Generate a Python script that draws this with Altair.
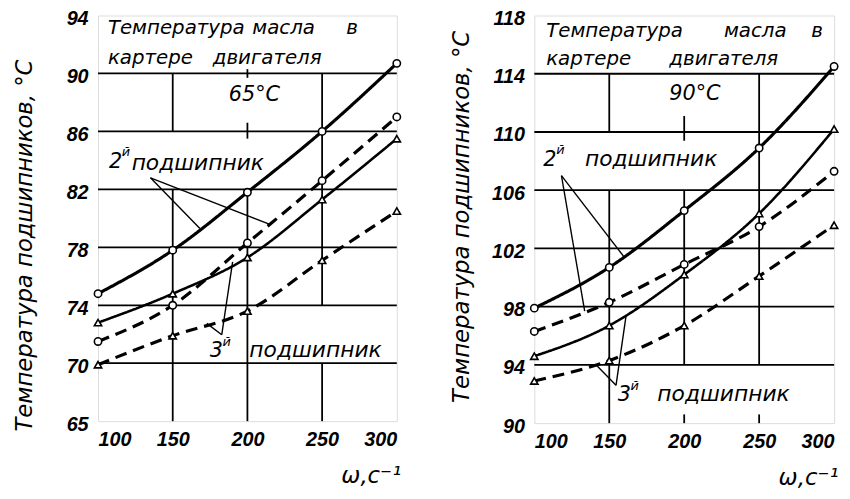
import altair as alt
import pandas as pd

# ---------------- data ----------------
omega = [100, 150, 200, 250, 300]

# engine oil 65 °C
t65_b2_solid = [74.8, 77.8, 81.8, 86.0, 90.7]
t65_b2_dashed = [71.5, 74.0, 78.3, 82.6, 87.0]
t65_b3_solid = [72.8, 74.8, 77.3, 81.3, 85.5]
t65_b3_dashed = [69.9, 71.9, 73.6, 77.1, 80.5]

# engine oil 90 °C
t90_b2_solid = [97.9, 100.7, 104.6, 108.9, 114.5]
t90_b2_dashed = [96.3, 98.3, 100.9, 103.5, 107.3]
t90_b3_solid = [94.6, 96.7, 100.2, 104.4, 110.2]
t90_b3_dashed = [92.9, 94.3, 96.7, 100.1, 103.6]

x_ticks = [100, 150, 200, 250, 300]
y_ticks_65 = [66, 70, 74, 78, 82, 86, 90, 94]
y_ticks_90 = [90, 94, 98, 102, 106, 110, 114, 118]

FONT = "DejaVu Sans"
LABEL_FONT = "Liberation Sans"


def series_frame(b2s, b2d, b3s, b3d):
    rows = []
    spec = [("b2s", b2s, "solid", "circle", 3.2),
            ("b2d", b2d, "dashed", "circle", 3.2),
            ("b3s", b3s, "solid", "triangle", 2.6),
            ("b3d", b3d, "dashed", "triangle", 3.2)]
    for name, vals, style, marker, lw in spec:
        for xv, yv in zip(omega, vals):
            rows.append(dict(series=name, style=style, marker=marker, lw=lw, x=xv, y=yv))
    return pd.DataFrame(rows)


def panel(df, ydom, yticks, label_expr, texts, grid, leaders, title_y, w, h):
    xs = alt.Scale(domain=[100, 300], nice=False, zero=False)
    ys = alt.Scale(domain=ydom, nice=False, zero=False)
    xaxis = alt.Axis(values=x_ticks, grid=False, ticks=False, domain=False,
                     labelFont=LABEL_FONT, labelFontStyle="italic", labelFontWeight="bold",
                     labelFontSize=20, labelColor="black", labelPadding=9,
                     title="ω,с⁻¹", titleFont=FONT, titleFontStyle="italic",
                     titleFontWeight="normal", titleFontSize=23, titleColor="black",
                     titleAlign="right", titleAnchor="end", titleX=w + 4, titleY=44,
                     titleBaseline="top")
    yaxis = alt.Axis(values=yticks, labelExpr=label_expr, grid=False, ticks=False,
                     domain=False, labelFont=LABEL_FONT, labelFontStyle="italic",
                     labelFontWeight="bold", labelFontSize=20, labelColor="black",
                     labelPadding=10, labelOffset=3,
                     title="Температура подшипников, °С", titleFont=FONT,
                     titleFontStyle="italic", titleFontWeight="normal", titleFontSize=23,
                     titleColor="black", titleX=-74, titleY=title_y,
                     titleBaseline="middle", titleAlign="center", titleAngle=270)

    gdf = pd.DataFrame(grid, columns=["x", "x2", "y", "y2"])
    ldf = pd.DataFrame(leaders, columns=["x", "x2", "y", "y2"])
    tdf = pd.DataFrame(texts, columns=["x", "y", "text", "fs"])

    grid_layer = alt.Chart(gdf).mark_rule(color="black", strokeWidth=1.8).encode(
        x=alt.X("x:Q", scale=xs, axis=xaxis), x2="x2:Q",
        y=alt.Y("y:Q", scale=ys, axis=yaxis), y2="y2:Q")

    lines = alt.Chart(df).mark_line(interpolate="monotone", color="black").encode(
        x=alt.X("x:Q", scale=xs), y=alt.Y("y:Q", scale=ys),
        detail="series:N",
        strokeDash=alt.StrokeDash("style:N", scale=alt.Scale(domain=["solid", "dashed"],
                                  range=[[1, 0], [12, 7]]), legend=None),
        strokeWidth=alt.StrokeWidth("lw:Q", scale=None, legend=None))

    lead = alt.Chart(ldf).mark_rule(color="black", strokeWidth=1.4).encode(
        x=alt.X("x:Q", scale=xs), x2="x2:Q", y=alt.Y("y:Q", scale=ys), y2="y2:Q")

    pts = alt.Chart(df).mark_point(fill="white", stroke="black", fillOpacity=1,
                                   opacity=1, strokeWidth=1.6, size=55).encode(
        x=alt.X("x:Q", scale=xs), y=alt.Y("y:Q", scale=ys),
        shape=alt.Shape("marker:N", scale=alt.Scale(domain=["circle", "triangle"],
                        range=["circle", "triangle-up"]), legend=None))

    txt = alt.Chart(tdf).mark_text(align="left", baseline="alphabetic", font=FONT,
                                   fontStyle="italic", color="black").encode(
        x=alt.X("x:Q", scale=xs), y=alt.Y("y:Q", scale=ys), text="text:N",
        size=alt.Size("fs:Q", scale=None, legend=None))

    return alt.layer(grid_layer, lines, lead, pts, txt).properties(width=w, height=h)


df65 = series_frame(t65_b2_solid, t65_b2_dashed, t65_b3_solid, t65_b3_dashed)
df90 = series_frame(t90_b2_solid, t90_b2_dashed, t90_b3_solid, t90_b3_dashed)

# annotation geometry (x, x2, y, y2)
grid65 = [(100, 300, v, v) for v in [70, 74, 78, 82, 86, 90]] + [
    (150, 150, 66, 82), (150, 150, 86, 90),
    (200, 200, 66, 82), (200, 200, 89.7, 90.3), (200, 200, 85.5, 86.6),
    (250, 250, 74, 90), (250, 250, 66, 70)]
grid90 = [(100, 300, v, v) for v in [94, 98, 102, 106, 110, 114]] + [
    (150, 150, 110, 114), (150, 150, 90, 106),
    (200, 200, 94, 106), (200, 200, 109.4, 111.1), (200, 200, 90, 90.6),
    (250, 250, 94, 114), (250, 250, 90, 90.6)]

lead65 = [(135.1, 168.2, 82.8, 79.3), (135.1, 214.6, 82.8, 79.6),
          (182.8, 190.1, 71.96, 77.0), (182.8, 172.8, 71.96, 72.75)]
lead90 = [(118.1, 133.6, 107.0, 97.7), (118.1, 160.0, 107.0, 101.4),
          (154.5, 161.1, 92.6, 97.3), (154.5, 141.3, 92.6, 94.0)]

text65 = [(106.6, 92.7, "Температура", 20), (203.3, 92.7, "масла", 20),
          (266.2, 92.7, "в", 20),
          (106.6, 90.65, "картере", 20), (176.8, 90.65, "двигателя", 20),
          (187.5, 88.1, "65°С", 21),
          (107.3, 83.5, "2", 21), (115.9, 84.3, "й", 13),
          (122.5, 83.35, "подшипник", 22),
          (174.8, 70.4, "3", 21), (183.4, 71.2, "й", 13),
          (201.3, 70.4, "подшипник", 22)]
text90 = [(107.9, 116.5, "Температура", 20), (226.5, 116.5, "масла", 20),
          (284.8, 116.5, "в", 20),
          (107.9, 114.6, "картере", 20), (190.1, 114.6, "двигателя", 20),
          (190.0, 112.2, "90°С", 21),
          (106.0, 107.67, "2", 21), (114.6, 108.5, "й", 13),
          (133.8, 107.67, "подшипник", 22),
          (155.6, 91.49, "3", 21), (164.2, 92.3, "й", 13),
          (182.1, 91.49, "подшипник", 22)]

left = panel(df65, [66, 94], y_ticks_65,
             "datum.value == 66 ? '65' : datum.label",
             text65, grid65, lead65, 232, 302, 410)
right = panel(df90, [90, 118], y_ticks_90, "datum.label",
              text90, grid90, lead90, 203, 303, 412)

chart = alt.hconcat(left, right, spacing=45).properties(
    padding={"left": 5, "top": -3, "right": 0, "bottom": 0}
).configure_view(stroke="black", strokeWidth=2.5).configure(background="white")

chart.save("out.html", embed_options={"renderer": "svg", "actions": False})
